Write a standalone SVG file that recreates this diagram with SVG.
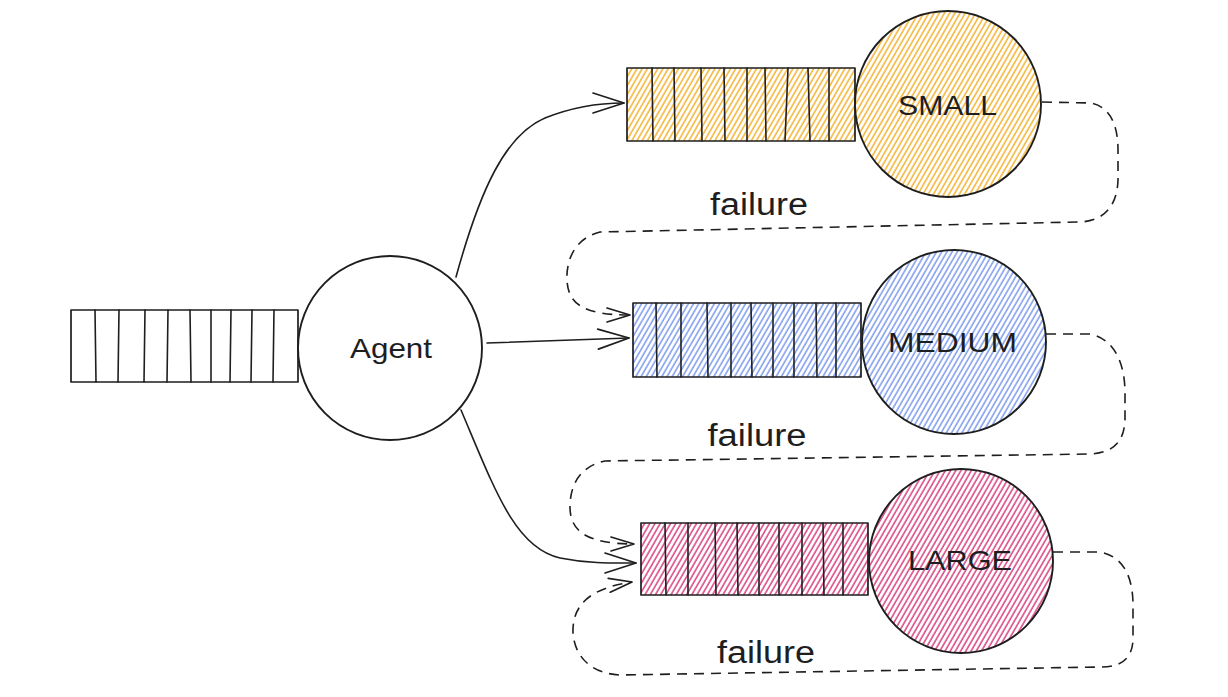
<svg xmlns="http://www.w3.org/2000/svg" width="1228" height="697" viewBox="0 0 1228 697">
<style>
.q{stroke:#1e1e1e;stroke-width:1.7;stroke-linejoin:round}
.dv{stroke:#1e1e1e;stroke-width:1.6;fill:none;stroke-linecap:round}
.c{stroke:#1e1e1e;stroke-width:1.9}
.lbl{font-family:"Liberation Sans",Arial,sans-serif;font-size:28px;fill:#1e1e1e;text-anchor:middle}
.fl{font-family:"Liberation Sans",Arial,sans-serif;font-size:31px;fill:#1e1e1e;text-anchor:middle}
.ln{fill:none;stroke:#1e1e1e;stroke-width:1.6;stroke-linecap:round}
.dash{fill:none;stroke:#1e1e1e;stroke-width:1.6;stroke-dasharray:10 7}
</style>
<defs>
<pattern id="hy" width="4.5" height="10" patternUnits="userSpaceOnUse" patternTransform="rotate(30)">
<rect width="4.5" height="10" fill="#ffffff"/>
<line x1="1" y1="0" x2="1" y2="10" stroke="#f5b332" stroke-width="1.5"/>
</pattern>
<pattern id="hb" width="4.5" height="10" patternUnits="userSpaceOnUse" patternTransform="rotate(30)">
<rect width="4.5" height="10" fill="#ffffff"/>
<line x1="1" y1="0" x2="1" y2="10" stroke="#7d9cee" stroke-width="1.5"/>
</pattern>
<pattern id="hp" width="4.5" height="10" patternUnits="userSpaceOnUse" patternTransform="rotate(30)">
<rect width="4.5" height="10" fill="#ffffff"/>
<line x1="1" y1="0" x2="1" y2="10" stroke="#da427f" stroke-width="1.5"/>
</pattern>
<marker id="ah" markerUnits="userSpaceOnUse" markerWidth="40" markerHeight="30" refX="0" refY="0" viewBox="-36 -15 40 30" orient="auto">
<path d="M -31 -10 L 0 0 L -31 10" fill="none" stroke="#1e1e1e" stroke-width="1.7" stroke-linecap="round" stroke-linejoin="round"/>
</marker>
<marker id="ahd" markerUnits="userSpaceOnUse" markerWidth="40" markerHeight="30" refX="0" refY="0" viewBox="-36 -15 40 30" orient="auto">
<path d="M -23 -7 L 0 0 L -23 7" fill="none" stroke="#1e1e1e" stroke-width="1.7" stroke-linecap="round" stroke-linejoin="round"/>
</marker>
</defs>
<rect width="1228" height="697" fill="#ffffff"/>

<g id="connectors">
<path class="ln" d="M 456 277 C 480 190, 505 135, 545 118 C 575 106, 600 103, 624 103" marker-end="url(#ah)"/>
<path class="ln" d="M 487 343 L 629 338" marker-end="url(#ah)"/>
<path class="ln" d="M 461 410 C 495 490, 515 548, 560 558 C 590 564, 615 563, 636 563" marker-end="url(#ah)"/>
<path class="dash" d="M 1042 102 L 1090 103 C 1110 106, 1118 125, 1118 150 L 1118 180 C 1117 210, 1100 222, 1078 222 L 600 232 C 575 238, 566 260, 567 280 C 568 305, 585 315, 630 315" marker-end="url(#ahd)"/>
<path class="dash" d="M 1046 334 L 1090 334 C 1112 338, 1125 360, 1125 393 L 1125 420 C 1124 445, 1110 453, 1090 454 L 605 461 C 580 466, 570 485, 570 507 C 570 530, 585 544, 634 544" marker-end="url(#ahd)"/>
<path class="dash" d="M 1053 552 L 1100 552 C 1122 556, 1133 575, 1133 605 L 1133 640 C 1132 660, 1120 667, 1100 667 L 620 675 C 595 674, 575 660, 573 633 C 572 605, 590 588, 632 582" marker-end="url(#ahd)"/>
</g>

<g id="labels">
<text class="fl" x="759" y="215" textLength="98" lengthAdjust="spacingAndGlyphs">failure</text>
<text class="fl" x="757" y="446" textLength="99" lengthAdjust="spacingAndGlyphs">failure</text>
<text class="fl" x="766" y="663" textLength="98" lengthAdjust="spacingAndGlyphs">failure</text>
</g>

<g id="input-queue">
<rect class="q" x="71" y="310" width="227" height="72" fill="#ffffff"/>
<path class="dv" d="M95 310 L96 382 M119 310 L118 382 M145 310 L144 382 M168 310 L167 382 M190 310 L191 382 M211 310 L211 382 M231 310 L230 382 M252 310 L251 382 M274 310 L273 382"/>
</g>

<g id="agent">
<circle class="c" cx="390" cy="348" r="92" fill="#ffffff"/>
<text class="lbl" x="391" y="358" textLength="82" lengthAdjust="spacingAndGlyphs">Agent</text>
</g>

<g id="small-queue">
<rect class="q" x="627" y="68" width="228" height="73" fill="url(#hy)"/>
<path class="dv" d="M652 68 L653 141 M674 68 L675 141 M701 68 L702 141 M724 68 L725 141 M747 68 L747 141 M765 68 L766 141 M788 68 L785 141 M808 68 L810 141 M829 68 L829 141"/>
</g>
<g id="small">
<circle class="c" cx="948" cy="104" r="93" fill="url(#hy)"/>
<text class="lbl" x="947.5" y="115" textLength="99" lengthAdjust="spacingAndGlyphs">SMALL</text>
</g>

<g id="medium-queue">
<rect class="q" x="633" y="303" width="228" height="74" fill="url(#hb)"/>
<path class="dv" d="M656 303 L657 377 M681 303 L681 377 M707 303 L708 377 M731 303 L731 377 M751 303 L752 377 M773 303 L773 377 M794 303 L794 377 M816 303 L817 377 M836 303 L836 377"/>
</g>
<g id="medium">
<circle class="c" cx="954" cy="342" r="92" fill="url(#hb)"/>
<text class="lbl" x="952.5" y="352" textLength="129" lengthAdjust="spacingAndGlyphs">MEDIUM</text>
</g>

<g id="large-queue">
<rect class="q" x="641" y="523" width="227" height="72" fill="url(#hp)"/>
<path class="dv" d="M665 523 L666 595 M688 523 L688 595 M715 523 L716 595 M737 523 L738 595 M759 523 L759 595 M779 523 L779 595 M802 523 L802 595 M823 523 L824 595 M843 523 L843 595"/>
</g>
<g id="large">
<circle class="c" cx="961" cy="561" r="92" fill="url(#hp)"/>
<text class="lbl" x="960" y="570" textLength="104" lengthAdjust="spacingAndGlyphs">LARGE</text>
</g>
</svg>
